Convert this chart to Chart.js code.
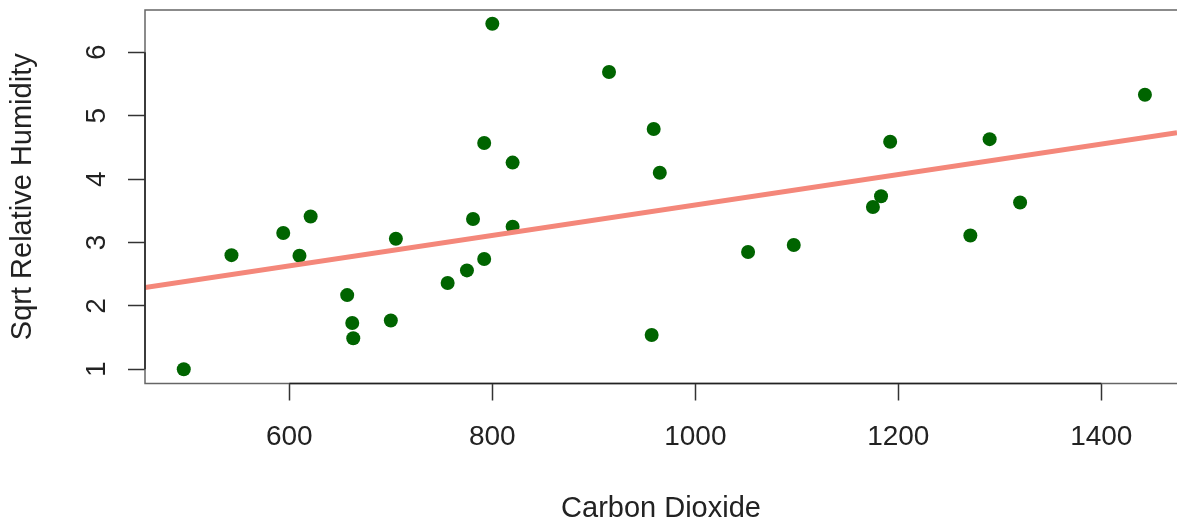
<!DOCTYPE html>
<html>
<head>
<meta charset="utf-8">
<script src="https://cdn.jsdelivr.net/npm/chart.js@4/dist/chart.umd.min.js"></script>
<style>
  html, body { margin: 0; padding: 0; background: #fff; overflow: hidden; }
</style>
</head>
<body>
<canvas id="co2Chart" width="1177" height="526"></canvas>
<script>
// values
const co2 = [496, 543, 594, 610, 621, 657, 662, 663, 700, 705, 756, 775, 781, 792, 792, 800,
  820, 820, 915, 957, 959, 965, 1052, 1097, 1175, 1183, 1192, 1271, 1290, 1320, 1443];
const sqrtHumidity = [1.00, 2.80, 3.15, 2.79, 3.41, 2.17, 1.73, 1.49, 1.77, 3.06, 2.36, 2.56, 3.37, 4.57, 2.74, 6.45,
  4.26, 3.25, 5.69, 1.54, 4.79, 4.10, 2.85, 2.96, 3.56, 3.73, 4.59, 3.11, 4.63, 3.63, 5.33];

// fitted line, ends at the plot edges
const fitX = [457.8, 1474.6];
const fitY = [2.29, 4.73];

const xTicks = [600, 800, 1000, 1200, 1400];
const yTicks = [1, 2, 3, 4, 5, 6];

const fontFamily = "'Liberation Sans', Arial, sans-serif";

// R style box + axis lines
const boxPlugin = {
  id: "rBox",
  afterDraw(chart) {
    const { ctx, chartArea, scales } = chart;
    ctx.save();
    ctx.strokeStyle = "#666";
    ctx.lineWidth = 1.5;
    ctx.strokeRect(chartArea.left, chartArea.top, chartArea.right - chartArea.left + 10, chartArea.bottom - chartArea.top);

    ctx.strokeStyle = "#222";
    ctx.beginPath();
    ctx.moveTo(scales.x.getPixelForValue(xTicks[0]), chartArea.bottom);
    ctx.lineTo(scales.x.getPixelForValue(xTicks[xTicks.length - 1]), chartArea.bottom);
    ctx.moveTo(chartArea.left, scales.y.getPixelForValue(yTicks[0]));
    ctx.lineTo(chartArea.left, scales.y.getPixelForValue(yTicks[yTicks.length - 1]));
    ctx.stroke();
    ctx.restore();
  },
};

const points = co2.map((c, i) => ({ x: c, y: sqrtHumidity[i] }));
const fitLine = fitX.map((c, i) => ({ x: c, y: fitY[i] }));

new Chart(document.getElementById("co2Chart").getContext("2d"), {
  type: "scatter",
  data: {
    datasets: [
      {
        label: "fit",
        data: fitLine,
        showLine: true,
        borderColor: "#F4877A",
        borderWidth: 5,
        pointRadius: 0,
        order: 0,
      },
      {
        label: "obs",
        data: points,
        backgroundColor: "#006400",
        borderWidth: 0,
        pointRadius: 7,
        order: 1,
      },
    ],
  },
  options: {
    responsive: false,
    animation: false,
    layout: { autoPadding: false, padding: { top: 10, left: 0, right: 0, bottom: 0 } },
    plugins: { legend: { display: false }, tooltip: { enabled: false } },
    scales: {
      x: {
        type: "linear",
        min: 457.8,
        max: 1474.6,
        afterBuildTicks: (scale) => { scale.ticks = xTicks.map((v) => ({ value: v })); },
        afterFit: (scale) => { scale.height = 142.5; scale.paddingLeft = 0; scale.paddingRight = 0; },
        grid: { display: true, drawOnChartArea: false, drawTicks: true, tickLength: 17, tickColor: "#333", tickWidth: 1.5 },
        border: { display: false },
        ticks: { padding: 20, color: "#222", font: { family: fontFamily, size: 28 }, maxRotation: 0, callback: (v) => String(v) },
        title: { display: true, text: "Carbon Dioxide", color: "#222", font: { family: fontFamily, size: 29 }, padding: { top: 0, bottom: 0 } },
      },
      y: {
        type: "linear",
        min: 0.776,
        max: 6.667,
        afterBuildTicks: (scale) => { scale.ticks = yTicks.map((v) => ({ value: v })); },
        afterFit: (scale) => { scale.width = 145; scale.paddingTop = 0; scale.paddingBottom = 0; },
        grid: { display: true, drawOnChartArea: false, drawTicks: true, tickLength: 17, tickColor: "#333", tickWidth: 1.5 },
        border: { display: false },
        ticks: { padding: 23, crossAlign: "center", minRotation: 90, maxRotation: 90, color: "#222", font: { family: fontFamily, size: 28 }, callback: (v) => String(v) },
        title: { display: true, text: "Sqrt Relative Humidity", color: "#222", font: { family: fontFamily, size: 29 }, padding: { top: 6, bottom: 0 } },
      },
    },
  },
  plugins: [boxPlugin],
});
</script>
</body>
</html>
